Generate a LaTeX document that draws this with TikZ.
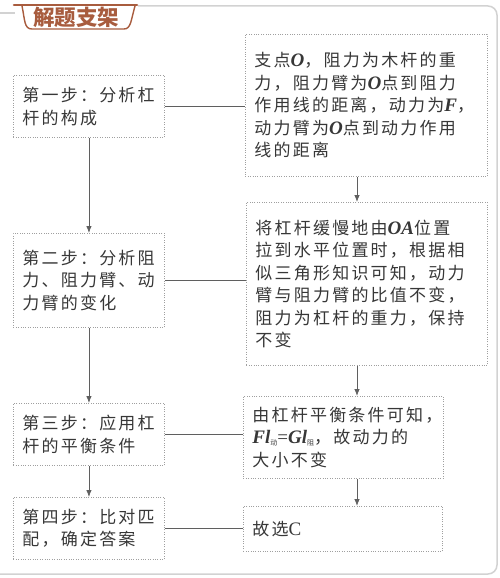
\documentclass[tikz,border=0pt]{standalone}
\usepackage{fontspec}
\setmainfont{Noto Sans CJK SC}[LetterSpace=13]
\newfontfamily\lat{Liberation Serif}[Scale=1.12]
\newfontfamily\ttl{Noto Sans CJK SC}
\usetikzlibrary{arrows.meta,calc}
\definecolor{brn}{RGB}{168,92,62}
\definecolor{txt}{RGB}{55,55,55}
\definecolor{ln}{RGB}{95,95,95}
\definecolor{frm}{RGB}{210,210,210}
\newcommand{\Bi}[1]{{\lat\bfseries\itshape #1}}
\newcommand{\Rm}[1]{{\lat #1}}
\newcommand{\Sb}[1]{\raisebox{-2pt}{\fontsize{7}{7}\selectfont #1}}
\tikzset{
  box/.style={draw=gray!75, dash pattern=on 1pt off 1.4pt, line width=0.9pt,
    anchor=north west, inner xsep=9pt, inner ysep=0pt, align=left, text=txt,
    font=\fontsize{17}{22.5}\selectfont},
  lbox/.style={box, minimum width=151pt, text width=133pt},
  conn/.style={draw=ln, line width=0.8pt},
  arr/.style={conn, -{Latex[length=7pt,width=5.5pt]}},
}
\begin{document}
\begin{tikzpicture}[x=1pt,y=-1pt]
\useasboundingbox (0,0) rectangle (499,578);
% frame
\draw[frm, line width=1.5pt] (0,13) -- (15,13);
\draw[frm, line width=1.5pt] (138,6) -- (488,6) arc[start angle=90,end angle=0,radius=9pt] -- (497,565) arc[start angle=0,end angle=-90,radius=9pt] -- (0,574);
% title tab
\draw[brn, line width=1.4pt, fill=white] (22,6) .. controls (25,20) and (24,29) .. (32,29) -- (124,29) .. controls (131,29) and (131,20) .. (135,6);
\draw[brn, line width=2.6pt, line cap=round] (14,5) -- (137,5);
\node[text=brn, font=\ttl\bfseries\fontsize{21.5}{21.5}\selectfont, inner sep=0pt] (title) at (76,17.5) {解题支架};
% left boxes
\node[lbox, minimum height=62pt] (b1) at (13,75) {第一步：分析杠\\杆的构成};
\node[lbox, minimum height=94pt] (b2) at (13,233) {第二步：分析阻\\力、阻力臂、动\\力臂的变化};
\node[lbox, minimum height=62pt] (b3) at (13,403) {第三步：应用杠\\杆的平衡条件};
\node[lbox, minimum height=62pt] (b4) at (13,497) {第四步：比对匹\\配，确定答案};
% right boxes
\node[box, minimum width=242pt, text width=224pt, minimum height=142pt] (r1) at (245,34)
  {支点\Bi{O}，阻力为木杆的重\\力，阻力臂为\Bi{O}点到阻力\\作用线的距离，动力为\Bi{F}，\\动力臂为\Bi{O}点到动力作用\\线的距离};
\node[box, minimum width=241pt, text width=223pt, minimum height=163pt] (r2) at (246,202)
  {将杠杆缓慢地由\Bi{OA}位置\\拉到水平位置时，根据相\\似三角形知识可知，动力\\臂与阻力臂的比值不变，\\阻力为杠杆的重力，保持\\不变};
\node[box, minimum width=200pt, text width=182pt, minimum height=82pt] (r3) at (243,396)
  {由杠杆平衡条件可知，\\\Bi{Fl}\Sb{动}\Rm{=}\Bi{Gl}\Sb{阻}，故动力的\\大小不变};
\node[box, minimum width=199pt, text width=181pt, minimum height=45pt] (r4) at (243,506)
  {故选\Rm{C}};
% connectors
\coordinate (xr) at (357,0);
\draw[arr] (b1.south) -- (b2.north);
\draw[arr] (b2.south) -- (b3.north);
\draw[arr] (b3.south) -- (b4.north);
\draw[arr] (r1.south -| xr) -- (r2.north -| xr);
\draw[arr] (r2.south -| xr) -- (r3.north -| xr);
\draw[arr] (r3.south -| xr) -- (r4.north -| xr);
\draw[conn] (b1.east) -- (b1.east -| r1.west);
\draw[conn] (b2.east) -- (b2.east -| r2.west);
\draw[conn] (b3.east) -- (b3.east -| r3.west);
\draw[conn] (b4.east) -- (b4.east -| r4.west);
\end{tikzpicture}
\end{document}
